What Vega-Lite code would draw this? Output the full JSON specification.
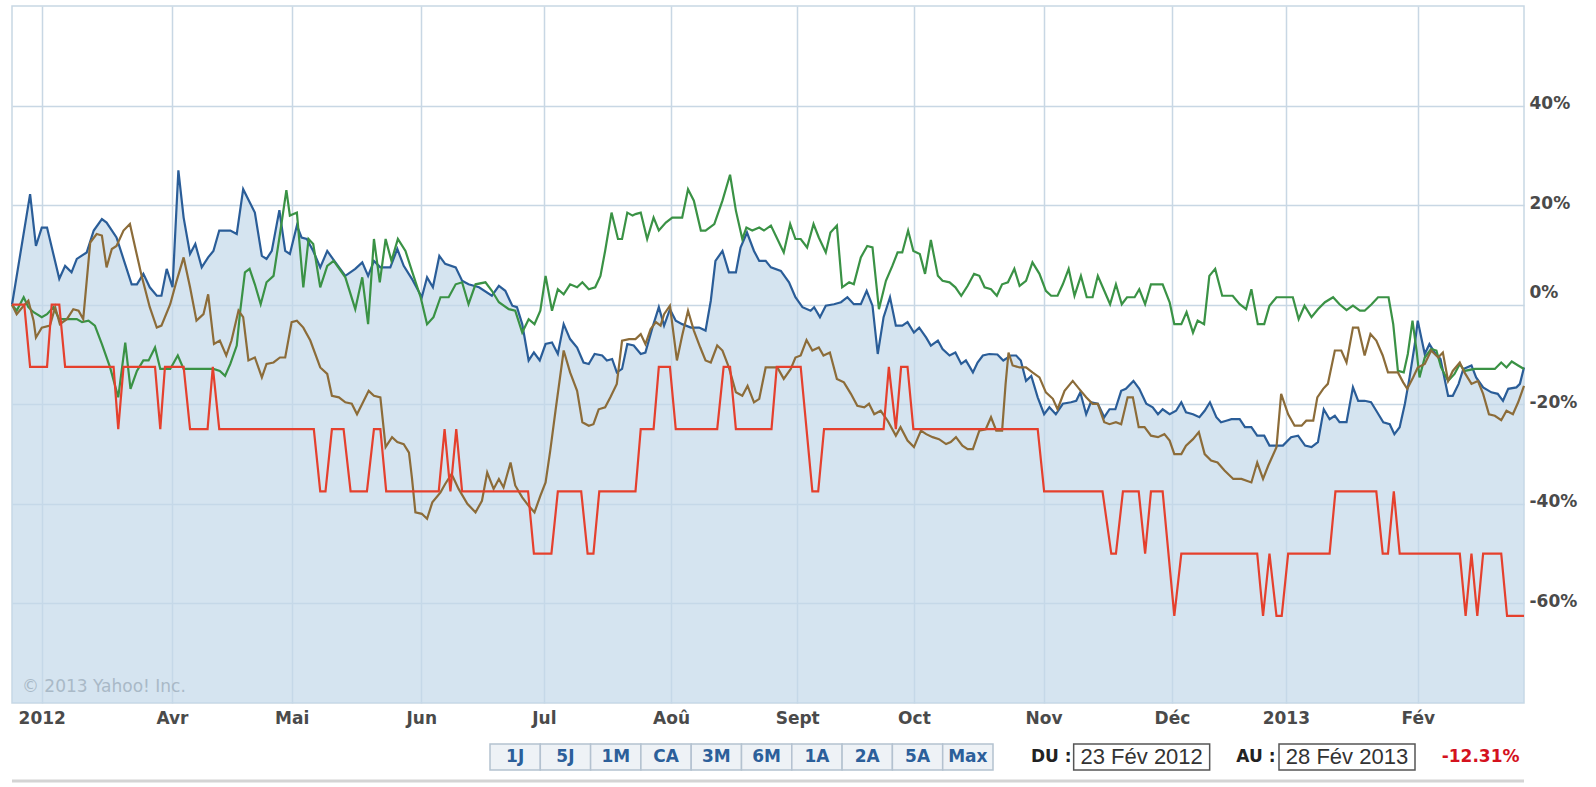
{
"$schema":"https://vega.github.io/schema/vega-lite/v6.json",
"background":"white",
"padding":{"left":6,"top":5,"right":0,"bottom":0},
"spacing":16,
"datasets":{
"series":[
{"s":"A","t":0,"v":0},{"s":"A","t":3.1,"v":22.2},{"s":"A","t":4.1,"v":11.8},{"s":"A","t":5.1,"v":15.5},{"s":"A","t":6.0,"v":15.5},{"s":"A","t":8.1,"v":5.2},{"s":"A","t":9.1,"v":7.8},{"s":"A","t":10.2,"v":6.5},{"s":"A","t":11.1,"v":9.2},{"s":"A","t":12.8,"v":10.5},{"s":"A","t":14.0,"v":14.9},{"s":"A","t":15.4,"v":17.2},{"s":"A","t":16.2,"v":16.5},{"s":"A","t":17.9,"v":13.5},{"s":"A","t":20.5,"v":4.1},{"s":"A","t":21.4,"v":4.1},{"s":"A","t":22.5,"v":6.2},{"s":"A","t":23.6,"v":3.5},{"s":"A","t":24.8,"v":1.8},{"s":"A","t":25.6,"v":1.8},{"s":"A","t":26.5,"v":7.2},{"s":"A","t":27.5,"v":3.5},{"s":"A","t":28.5,"v":27.0},{"s":"A","t":29.4,"v":17.5},{"s":"A","t":30.5,"v":10.2},{"s":"A","t":31.4,"v":12.2},{"s":"A","t":32.5,"v":7.5},{"s":"A","t":33.6,"v":9.5},{"s":"A","t":34.5,"v":10.8},{"s":"A","t":35.5,"v":14.9},{"s":"A","t":37.4,"v":14.9},{"s":"A","t":38.5,"v":14.2},{"s":"A","t":39.6,"v":23.2},{"s":"A","t":41.6,"v":18.5},{"s":"A","t":42.8,"v":9.8},{"s":"A","t":43.6,"v":9.2},{"s":"A","t":44.5,"v":10.8},{"s":"A","t":45.8,"v":19.0},{"s":"A","t":46.8,"v":10.8},{"s":"A","t":47.6,"v":10.2},{"s":"A","t":48.8,"v":15.9},{"s":"A","t":49.6,"v":13.5},{"s":"A","t":50.5,"v":13.2},{"s":"A","t":51.6,"v":10.8},{"s":"A","t":52.8,"v":7.5},{"s":"A","t":54.0,"v":10.8},{"s":"A","t":55.4,"v":8.5},{"s":"A","t":57.1,"v":5.8},{"s":"A","t":58.8,"v":7.2},{"s":"A","t":60.0,"v":8.5},{"s":"A","t":61.0,"v":5.8},{"s":"A","t":62.0,"v":8.8},{"s":"A","t":63.1,"v":7.5},{"s":"A","t":64.8,"v":7.5},{"s":"A","t":66.0,"v":11.2},{"s":"A","t":67.1,"v":7.8},{"s":"A","t":68.5,"v":5.2},{"s":"A","t":70.2,"v":1.5},{"s":"A","t":71.1,"v":5.5},{"s":"A","t":72.1,"v":3.5},{"s":"A","t":73.2,"v":9.8},{"s":"A","t":74.2,"v":8.2},{"s":"A","t":76.0,"v":7.5},{"s":"A","t":77.1,"v":4.8},{"s":"A","t":78.2,"v":4.1},{"s":"A","t":80.0,"v":3.5},{"s":"A","t":82.2,"v":1.8},{"s":"A","t":83.4,"v":3.8},{"s":"A","t":84.5,"v":2.8},{"s":"A","t":85.7,"v":-0.2},{"s":"A","t":86.5,"v":-0.5},{"s":"A","t":87.4,"v":-3.9},{"s":"A","t":88.5,"v":-11.2},{"s":"A","t":89.4,"v":-9.6},{"s":"A","t":90.4,"v":-11.2},{"s":"A","t":91.4,"v":-7.9},{"s":"A","t":92.5,"v":-7.6},{"s":"A","t":93.5,"v":-9.9},{"s":"A","t":94.5,"v":-3.9},{"s":"A","t":95.6,"v":-6.9},{"s":"A","t":96.8,"v":-8.6},{"s":"A","t":97.9,"v":-11.6},{"s":"A","t":98.8,"v":-11.9},{"s":"A","t":99.8,"v":-9.9},{"s":"A","t":101.1,"v":-10.2},{"s":"A","t":101.9,"v":-11.2},{"s":"A","t":102.8,"v":-10.9},{"s":"A","t":103.6,"v":-13.6},{"s":"A","t":104.5,"v":-12.9},{"s":"A","t":105.4,"v":-7.9},{"s":"A","t":106.5,"v":-8.2},{"s":"A","t":107.7,"v":-9.9},{"s":"A","t":108.5,"v":-9.6},{"s":"A","t":109.7,"v":-4.6},{"s":"A","t":110.8,"v":-0.5},{"s":"A","t":111.7,"v":-4.2},{"s":"A","t":112.7,"v":-0.9},{"s":"A","t":113.7,"v":-3.2},{"s":"A","t":114.8,"v":-3.9},{"s":"A","t":116.3,"v":-4.6},{"s":"A","t":117.7,"v":-4.6},{"s":"A","t":118.8,"v":-5.2},{"s":"A","t":119.7,"v":0.8},{"s":"A","t":120.5,"v":8.8},{"s":"A","t":121.7,"v":10.8},{"s":"A","t":122.8,"v":6.5},{"s":"A","t":124.0,"v":6.5},{"s":"A","t":124.8,"v":11.5},{"s":"A","t":125.9,"v":14.5},{"s":"A","t":127.1,"v":10.8},{"s":"A","t":128.0,"v":8.8},{"s":"A","t":129.1,"v":8.8},{"s":"A","t":130.0,"v":7.5},{"s":"A","t":131.7,"v":6.8},{"s":"A","t":133.1,"v":4.5},{"s":"A","t":134.2,"v":1.5},{"s":"A","t":135.4,"v":-0.5},{"s":"A","t":136.8,"v":-1.2},{"s":"A","t":137.4,"v":-0.5},{"s":"A","t":138.4,"v":-2.5},{"s":"A","t":139.4,"v":-0.2},{"s":"A","t":140.8,"v":0.1},{"s":"A","t":142.0,"v":0.5},{"s":"A","t":143.1,"v":1.5},{"s":"A","t":144.2,"v":0.1},{"s":"A","t":145.4,"v":0.1},{"s":"A","t":146.4,"v":2.8},{"s":"A","t":147.4,"v":-0.2},{"s":"A","t":148.3,"v":-9.9},{"s":"A","t":149.3,"v":-2.5},{"s":"A","t":150.4,"v":1.5},{"s":"A","t":151.4,"v":-4.2},{"s":"A","t":152.5,"v":-4.2},{"s":"A","t":153.4,"v":-3.5},{"s":"A","t":154.5,"v":-5.6},{"s":"A","t":155.4,"v":-4.6},{"s":"A","t":156.6,"v":-6.6},{"s":"A","t":157.4,"v":-8.2},{"s":"A","t":158.6,"v":-7.2},{"s":"A","t":159.4,"v":-8.9},{"s":"A","t":160.6,"v":-10.2},{"s":"A","t":161.6,"v":-9.6},{"s":"A","t":162.6,"v":-11.9},{"s":"A","t":163.4,"v":-11.2},{"s":"A","t":164.6,"v":-13.6},{"s":"A","t":165.4,"v":-11.6},{"s":"A","t":166.3,"v":-10.2},{"s":"A","t":167.4,"v":-9.9},{"s":"A","t":168.8,"v":-10.0},{"s":"A","t":169.8,"v":-11.2},{"s":"A","t":171.1,"v":-10.2},{"s":"A","t":172.0,"v":-10.2},{"s":"A","t":172.8,"v":-11.2},{"s":"A","t":173.7,"v":-15.3},{"s":"A","t":174.6,"v":-14.3},{"s":"A","t":175.7,"v":-18.6},{"s":"A","t":176.8,"v":-22.0},{"s":"A","t":177.7,"v":-20.6},{"s":"A","t":178.8,"v":-22.0},{"s":"A","t":180.0,"v":-19.9},{"s":"A","t":181.4,"v":-19.6},{"s":"A","t":182.3,"v":-19.3},{"s":"A","t":183.0,"v":-17.6},{"s":"A","t":184.0,"v":-22.0},{"s":"A","t":184.8,"v":-19.6},{"s":"A","t":186.0,"v":-19.9},{"s":"A","t":187.1,"v":-22.6},{"s":"A","t":188.0,"v":-21.0},{"s":"A","t":189.0,"v":-21.0},{"s":"A","t":190.0,"v":-17.3},{"s":"A","t":190.8,"v":-16.9},{"s":"A","t":192.1,"v":-15.3},{"s":"A","t":193.1,"v":-16.9},{"s":"A","t":194.3,"v":-19.9},{"s":"A","t":195.4,"v":-20.6},{"s":"A","t":196.3,"v":-22.0},{"s":"A","t":197.1,"v":-21.0},{"s":"A","t":198.3,"v":-22.0},{"s":"A","t":199.4,"v":-21.3},{"s":"A","t":200.3,"v":-19.6},{"s":"A","t":201.1,"v":-21.6},{"s":"A","t":202.3,"v":-22.0},{"s":"A","t":203.4,"v":-22.6},{"s":"A","t":204.3,"v":-21.3},{"s":"A","t":205.2,"v":-19.6},{"s":"A","t":206.3,"v":-22.6},{"s":"A","t":207.1,"v":-23.6},{"s":"A","t":208.0,"v":-23.3},{"s":"A","t":208.9,"v":-23.0},{"s":"A","t":210.3,"v":-23.0},{"s":"A","t":211.2,"v":-24.6},{"s":"A","t":212.3,"v":-24.6},{"s":"A","t":213.3,"v":-26.3},{"s":"A","t":214.5,"v":-26.3},{"s":"A","t":215.4,"v":-28.3},{"s":"A","t":216.6,"v":-28.3},{"s":"A","t":217.7,"v":-28.3},{"s":"A","t":219.1,"v":-26.6},{"s":"A","t":220.3,"v":-26.3},{"s":"A","t":221.5,"v":-28.3},{"s":"A","t":222.6,"v":-28.6},{"s":"A","t":223.7,"v":-27.6},{"s":"A","t":224.7,"v":-21.0},{"s":"A","t":225.7,"v":-23.0},{"s":"A","t":226.6,"v":-22.3},{"s":"A","t":227.4,"v":-23.6},{"s":"A","t":228.6,"v":-23.6},{"s":"A","t":229.7,"v":-16.6},{"s":"A","t":230.6,"v":-19.3},{"s":"A","t":231.7,"v":-19.3},{"s":"A","t":232.8,"v":-19.6},{"s":"A","t":233.7,"v":-21.3},{"s":"A","t":234.9,"v":-23.6},{"s":"A","t":236.0,"v":-24.0},{"s":"A","t":236.8,"v":-26.0},{"s":"A","t":237.7,"v":-24.6},{"s":"A","t":238.6,"v":-19.9},{"s":"A","t":239.4,"v":-14.6},{"s":"A","t":240.3,"v":-7.9},{"s":"A","t":240.8,"v":-3.2},{"s":"A","t":241.4,"v":-6.6},{"s":"A","t":242.0,"v":-9.9},{"s":"A","t":242.8,"v":-7.9},{"s":"A","t":243.7,"v":-9.6},{"s":"A","t":244.7,"v":-10.9},{"s":"A","t":246.0,"v":-18.3},{"s":"A","t":246.8,"v":-18.3},{"s":"A","t":247.8,"v":-15.9},{"s":"A","t":248.6,"v":-12.9},{"s":"A","t":250.0,"v":-12.2},{"s":"A","t":250.8,"v":-14.6},{"s":"A","t":252.0,"v":-16.6},{"s":"A","t":253.4,"v":-17.6},{"s":"A","t":254.5,"v":-17.9},{"s":"A","t":255.4,"v":-19.3},{"s":"A","t":256.3,"v":-16.9},{"s":"A","t":257.7,"v":-16.6},{"s":"A","t":258.3,"v":-15.9},{"s":"A","t":259.0,"v":-12.6},
{"s":"B","t":0,"v":0},{"s":"B","t":0.8,"v":-1.2},{"s":"B","t":2.0,"v":1.5},{"s":"B","t":2.8,"v":-0.5},{"s":"B","t":3.7,"v":-1.5},{"s":"B","t":5.1,"v":-2.5},{"s":"B","t":6.0,"v":-1.9},{"s":"B","t":7.1,"v":-0.5},{"s":"B","t":8.1,"v":-2.9},{"s":"B","t":11.1,"v":-2.9},{"s":"B","t":12.0,"v":-3.5},{"s":"B","t":13.1,"v":-3.2},{"s":"B","t":14.2,"v":-4.2},{"s":"B","t":15.4,"v":-7.9},{"s":"B","t":16.8,"v":-12.6},{"s":"B","t":18.2,"v":-18.6},{"s":"B","t":19.4,"v":-7.6},{"s":"B","t":20.3,"v":-16.9},{"s":"B","t":21.4,"v":-13.3},{"s":"B","t":22.5,"v":-11.2},{"s":"B","t":23.4,"v":-11.2},{"s":"B","t":24.5,"v":-8.6},{"s":"B","t":25.4,"v":-12.9},{"s":"B","t":27.1,"v":-12.9},{"s":"B","t":28.4,"v":-10.2},{"s":"B","t":29.4,"v":-12.9},{"s":"B","t":34.5,"v":-12.9},{"s":"B","t":35.6,"v":-13.3},{"s":"B","t":36.5,"v":-14.3},{"s":"B","t":37.4,"v":-11.9},{"s":"B","t":38.5,"v":-8.2},{"s":"B","t":39.1,"v":-1.2},{"s":"B","t":39.9,"v":6.5},{"s":"B","t":40.7,"v":7.2},{"s":"B","t":41.6,"v":4.1},{"s":"B","t":42.6,"v":0.1},{"s":"B","t":43.6,"v":4.5},{"s":"B","t":44.8,"v":5.8},{"s":"B","t":45.9,"v":14.2},{"s":"B","t":47.0,"v":23.0},{"s":"B","t":47.6,"v":17.9},{"s":"B","t":48.8,"v":18.5},{"s":"B","t":49.9,"v":3.5},{"s":"B","t":50.8,"v":13.2},{"s":"B","t":51.6,"v":12.2},{"s":"B","t":52.8,"v":3.5},{"s":"B","t":54.0,"v":7.8},{"s":"B","t":55.1,"v":8.8},{"s":"B","t":57.1,"v":5.5},{"s":"B","t":58.8,"v":-0.9},{"s":"B","t":60.0,"v":5.5},{"s":"B","t":61.0,"v":-3.9},{"s":"B","t":62.0,"v":13.2},{"s":"B","t":63.0,"v":4.5},{"s":"B","t":64.0,"v":13.2},{"s":"B","t":65.0,"v":8.8},{"s":"B","t":66.1,"v":13.2},{"s":"B","t":67.4,"v":10.8},{"s":"B","t":68.5,"v":6.8},{"s":"B","t":70.0,"v":1.5},{"s":"B","t":71.1,"v":-3.9},{"s":"B","t":72.2,"v":-2.5},{"s":"B","t":73.4,"v":1.5},{"s":"B","t":74.8,"v":1.5},{"s":"B","t":76.0,"v":4.1},{"s":"B","t":77.1,"v":4.5},{"s":"B","t":78.2,"v":0.1},{"s":"B","t":79.4,"v":4.1},{"s":"B","t":81.1,"v":4.5},{"s":"B","t":82.2,"v":2.8},{"s":"B","t":83.4,"v":0.5},{"s":"B","t":85.1,"v":-0.9},{"s":"B","t":86.2,"v":-1.2},{"s":"B","t":87.4,"v":-5.6},{"s":"B","t":88.5,"v":-2.9},{"s":"B","t":89.5,"v":-3.9},{"s":"B","t":90.5,"v":-1.2},{"s":"B","t":91.4,"v":5.8},{"s":"B","t":92.5,"v":-1.2},{"s":"B","t":93.5,"v":3.1},{"s":"B","t":94.5,"v":2.1},{"s":"B","t":95.6,"v":4.1},{"s":"B","t":96.8,"v":3.5},{"s":"B","t":97.7,"v":4.5},{"s":"B","t":98.8,"v":3.1},{"s":"B","t":99.9,"v":3.5},{"s":"B","t":100.8,"v":5.8},{"s":"B","t":101.6,"v":10.8},{"s":"B","t":102.7,"v":18.5},{"s":"B","t":103.8,"v":13.2},{"s":"B","t":104.5,"v":13.2},{"s":"B","t":105.4,"v":18.5},{"s":"B","t":106.3,"v":17.9},{"s":"B","t":106.8,"v":18.2},{"s":"B","t":107.7,"v":18.5},{"s":"B","t":108.8,"v":13.2},{"s":"B","t":109.9,"v":17.5},{"s":"B","t":110.8,"v":14.9},{"s":"B","t":112.0,"v":16.5},{"s":"B","t":113.1,"v":17.5},{"s":"B","t":114.8,"v":17.5},{"s":"B","t":115.8,"v":23.2},{"s":"B","t":116.8,"v":20.9},{"s":"B","t":118.0,"v":14.9},{"s":"B","t":118.8,"v":14.9},{"s":"B","t":120.3,"v":16.2},{"s":"B","t":121.7,"v":20.9},{"s":"B","t":123.0,"v":26.1},{"s":"B","t":124.0,"v":18.9},{"s":"B","t":125.1,"v":13.2},{"s":"B","t":125.8,"v":15.5},{"s":"B","t":126.8,"v":14.9},{"s":"B","t":128.0,"v":15.5},{"s":"B","t":128.8,"v":14.9},{"s":"B","t":130.0,"v":15.9},{"s":"B","t":131.1,"v":13.2},{"s":"B","t":132.2,"v":10.5},{"s":"B","t":133.3,"v":16.2},{"s":"B","t":134.2,"v":13.2},{"s":"B","t":135.1,"v":13.2},{"s":"B","t":136.2,"v":11.5},{"s":"B","t":137.3,"v":16.2},{"s":"B","t":138.2,"v":13.5},{"s":"B","t":139.4,"v":10.5},{"s":"B","t":140.2,"v":14.5},{"s":"B","t":141.3,"v":15.9},{"s":"B","t":142.2,"v":3.5},{"s":"B","t":143.4,"v":4.5},{"s":"B","t":144.2,"v":4.1},{"s":"B","t":145.4,"v":9.5},{"s":"B","t":146.5,"v":11.8},{"s":"B","t":147.4,"v":11.5},{"s":"B","t":148.5,"v":-0.9},{"s":"B","t":149.7,"v":4.8},{"s":"B","t":150.8,"v":7.8},{"s":"B","t":151.7,"v":10.5},{"s":"B","t":152.5,"v":10.5},{"s":"B","t":153.5,"v":14.9},{"s":"B","t":154.4,"v":10.8},{"s":"B","t":155.5,"v":10.2},{"s":"B","t":156.4,"v":6.2},{"s":"B","t":157.4,"v":13.0},{"s":"B","t":158.6,"v":5.8},{"s":"B","t":159.4,"v":4.8},{"s":"B","t":160.6,"v":4.5},{"s":"B","t":161.6,"v":3.5},{"s":"B","t":162.6,"v":1.8},{"s":"B","t":163.7,"v":3.8},{"s":"B","t":164.8,"v":6.2},{"s":"B","t":165.7,"v":5.8},{"s":"B","t":166.6,"v":3.5},{"s":"B","t":167.7,"v":3.1},{"s":"B","t":168.7,"v":1.8},{"s":"B","t":169.6,"v":4.1},{"s":"B","t":170.6,"v":4.5},{"s":"B","t":171.7,"v":7.2},{"s":"B","t":172.6,"v":3.8},{"s":"B","t":173.7,"v":4.8},{"s":"B","t":174.8,"v":8.5},{"s":"B","t":176.0,"v":6.2},{"s":"B","t":177.1,"v":2.8},{"s":"B","t":178.0,"v":1.8},{"s":"B","t":179.1,"v":1.8},{"s":"B","t":180.0,"v":4.1},{"s":"B","t":181.0,"v":7.2},{"s":"B","t":182.0,"v":1.8},{"s":"B","t":183.1,"v":5.8},{"s":"B","t":184.1,"v":1.5},{"s":"B","t":185.1,"v":1.5},{"s":"B","t":186.0,"v":5.8},{"s":"B","t":187.1,"v":2.8},{"s":"B","t":188.1,"v":0.1},{"s":"B","t":189.1,"v":4.1},{"s":"B","t":190.1,"v":0.1},{"s":"B","t":191.0,"v":1.5},{"s":"B","t":192.3,"v":1.5},{"s":"B","t":193.1,"v":3.1},{"s":"B","t":194.1,"v":0.1},{"s":"B","t":195.1,"v":4.1},{"s":"B","t":197.1,"v":4.1},{"s":"B","t":198.3,"v":0.5},{"s":"B","t":199.1,"v":-3.9},{"s":"B","t":200.3,"v":-3.9},{"s":"B","t":201.2,"v":-1.5},{"s":"B","t":202.3,"v":-5.6},{"s":"B","t":203.1,"v":-3.2},{"s":"B","t":204.2,"v":-3.9},{"s":"B","t":205.1,"v":5.8},{"s":"B","t":206.1,"v":7.2},{"s":"B","t":207.3,"v":1.8},{"s":"B","t":209.1,"v":1.8},{"s":"B","t":210.3,"v":0.1},{"s":"B","t":211.4,"v":-0.9},{"s":"B","t":212.3,"v":3.1},{"s":"B","t":213.4,"v":-3.9},{"s":"B","t":214.5,"v":-3.9},{"s":"B","t":215.4,"v":-0.2},{"s":"B","t":216.6,"v":1.5},{"s":"B","t":219.4,"v":1.5},{"s":"B","t":220.4,"v":-2.9},{"s":"B","t":221.4,"v":-0.2},{"s":"B","t":222.6,"v":-2.5},{"s":"B","t":223.7,"v":-0.9},{"s":"B","t":224.9,"v":0.5},{"s":"B","t":226.3,"v":1.5},{"s":"B","t":227.4,"v":0.1},{"s":"B","t":228.6,"v":-1.1},{"s":"B","t":229.7,"v":-0.2},{"s":"B","t":230.9,"v":-1.2},{"s":"B","t":231.7,"v":-1.2},{"s":"B","t":232.9,"v":0.1},{"s":"B","t":234.0,"v":1.5},{"s":"B","t":235.8,"v":1.5},{"s":"B","t":236.6,"v":-3.9},{"s":"B","t":237.4,"v":-13.3},{"s":"B","t":238.4,"v":-13.6},{"s":"B","t":239.1,"v":-9.9},{"s":"B","t":239.9,"v":-3.2},{"s":"B","t":240.6,"v":-9.2},{"s":"B","t":241.1,"v":-14.6},{"s":"B","t":242.0,"v":-10.6},{"s":"B","t":243.1,"v":-8.9},{"s":"B","t":244.0,"v":-9.2},{"s":"B","t":244.8,"v":-12.6},{"s":"B","t":246.0,"v":-15.3},{"s":"B","t":247.1,"v":-13.9},{"s":"B","t":248.0,"v":-11.9},{"s":"B","t":248.8,"v":-13.3},{"s":"B","t":250.6,"v":-12.9},{"s":"B","t":254.0,"v":-12.9},{"s":"B","t":255.1,"v":-11.6},{"s":"B","t":256.0,"v":-12.6},{"s":"B","t":256.9,"v":-11.4},{"s":"B","t":258.0,"v":-12.2},{"s":"B","t":259.0,"v":-12.9},
{"s":"C","t":0,"v":0},{"s":"C","t":0.8,"v":-1.9},{"s":"C","t":2.0,"v":-0.2},{"s":"C","t":2.8,"v":0.8},{"s":"C","t":3.7,"v":-3.2},{"s":"C","t":4.1,"v":-6.6},{"s":"C","t":5.1,"v":-4.6},{"s":"C","t":6.5,"v":-4.2},{"s":"C","t":7.4,"v":-0.5},{"s":"C","t":8.2,"v":-3.9},{"s":"C","t":9.4,"v":-2.9},{"s":"C","t":10.5,"v":-0.9},{"s":"C","t":11.4,"v":-1.2},{"s":"C","t":12.2,"v":-2.9},{"s":"C","t":13.4,"v":12.5},{"s":"C","t":14.5,"v":14.2},{"s":"C","t":15.4,"v":13.9},{"s":"C","t":16.2,"v":7.5},{"s":"C","t":17.1,"v":11.2},{"s":"C","t":17.9,"v":11.8},{"s":"C","t":19.1,"v":14.9},{"s":"C","t":20.2,"v":16.2},{"s":"C","t":21.1,"v":11.5},{"s":"C","t":22.2,"v":5.8},{"s":"C","t":23.6,"v":-0.5},{"s":"C","t":24.8,"v":-4.6},{"s":"C","t":25.6,"v":-4.2},{"s":"C","t":27.1,"v":0.1},{"s":"C","t":28.2,"v":4.8},{"s":"C","t":29.4,"v":9.5},{"s":"C","t":30.5,"v":3.5},{"s":"C","t":31.6,"v":-3.2},{"s":"C","t":32.8,"v":-1.9},{"s":"C","t":33.6,"v":2.1},{"s":"C","t":34.6,"v":-7.9},{"s":"C","t":35.6,"v":-7.2},{"s":"C","t":36.7,"v":-10.2},{"s":"C","t":37.6,"v":-7.2},{"s":"C","t":38.8,"v":-1.2},{"s":"C","t":39.6,"v":-2.5},{"s":"C","t":40.5,"v":-11.2},{"s":"C","t":41.6,"v":-10.6},{"s":"C","t":42.8,"v":-14.6},{"s":"C","t":43.6,"v":-11.9},{"s":"C","t":44.8,"v":-11.6},{"s":"C","t":45.9,"v":-10.6},{"s":"C","t":46.8,"v":-10.6},{"s":"C","t":47.9,"v":-3.5},{"s":"C","t":48.8,"v":-3.2},{"s":"C","t":49.9,"v":-4.6},{"s":"C","t":51.1,"v":-7.2},{"s":"C","t":52.8,"v":-12.6},{"s":"C","t":54.0,"v":-13.9},{"s":"C","t":54.8,"v":-18.3},{"s":"C","t":56.0,"v":-18.6},{"s":"C","t":57.1,"v":-19.6},{"s":"C","t":58.2,"v":-19.9},{"s":"C","t":59.1,"v":-22.0},{"s":"C","t":60.0,"v":-19.9},{"s":"C","t":61.1,"v":-17.3},{"s":"C","t":62.0,"v":-18.3},{"s":"C","t":63.1,"v":-18.6},{"s":"C","t":64.0,"v":-28.6},{"s":"C","t":65.1,"v":-26.6},{"s":"C","t":66.0,"v":-27.6},{"s":"C","t":67.1,"v":-28.0},{"s":"C","t":68.0,"v":-29.7},{"s":"C","t":68.5,"v":-34.7},{"s":"C","t":69.1,"v":-41.7},{"s":"C","t":70.2,"v":-42.0},{"s":"C","t":71.1,"v":-43.0},{"s":"C","t":72.0,"v":-39.7},{"s":"C","t":73.4,"v":-37.7},{"s":"C","t":74.2,"v":-36.0},{"s":"C","t":75.3,"v":-34.0},{"s":"C","t":76.5,"v":-37.0},{"s":"C","t":78.0,"v":-40.0},{"s":"C","t":79.4,"v":-41.7},{"s":"C","t":80.5,"v":-39.4},{"s":"C","t":81.4,"v":-33.7},{"s":"C","t":82.5,"v":-37.0},{"s":"C","t":83.4,"v":-35.0},{"s":"C","t":84.2,"v":-36.7},{"s":"C","t":85.4,"v":-31.7},{"s":"C","t":86.2,"v":-36.3},{"s":"C","t":87.4,"v":-38.7},{"s":"C","t":88.5,"v":-40.4},{"s":"C","t":89.5,"v":-41.7},{"s":"C","t":90.5,"v":-38.4},{"s":"C","t":91.4,"v":-35.7},{"s":"C","t":92.2,"v":-29.3},{"s":"C","t":93.1,"v":-21.3},{"s":"C","t":94.5,"v":-9.2},{"s":"C","t":95.6,"v":-13.6},{"s":"C","t":96.8,"v":-17.3},{"s":"C","t":97.7,"v":-23.6},{"s":"C","t":98.8,"v":-24.3},{"s":"C","t":99.6,"v":-24.0},{"s":"C","t":100.5,"v":-21.0},{"s":"C","t":101.6,"v":-20.6},{"s":"C","t":102.5,"v":-18.6},{"s":"C","t":103.6,"v":-15.9},{"s":"C","t":104.5,"v":-7.2},{"s":"C","t":105.7,"v":-6.9},{"s":"C","t":106.8,"v":-6.9},{"s":"C","t":107.7,"v":-5.9},{"s":"C","t":108.5,"v":-7.9},{"s":"C","t":109.4,"v":-4.9},{"s":"C","t":110.3,"v":-3.5},{"s":"C","t":111.1,"v":-4.2},{"s":"C","t":111.7,"v":-1.9},{"s":"C","t":112.7,"v":-0.2},{"s":"C","t":113.4,"v":-6.6},{"s":"C","t":113.9,"v":-11.2},{"s":"C","t":114.8,"v":-6.2},{"s":"C","t":115.8,"v":-1.2},{"s":"C","t":116.8,"v":-5.2},{"s":"C","t":117.9,"v":-8.6},{"s":"C","t":118.8,"v":-11.2},{"s":"C","t":119.7,"v":-11.6},{"s":"C","t":120.8,"v":-8.2},{"s":"C","t":121.7,"v":-9.2},{"s":"C","t":122.8,"v":-12.6},{"s":"C","t":124.0,"v":-17.6},{"s":"C","t":125.1,"v":-18.3},{"s":"C","t":126.0,"v":-16.3},{"s":"C","t":127.1,"v":-19.6},{"s":"C","t":128.0,"v":-18.9},{"s":"C","t":129.1,"v":-12.6},{"s":"C","t":131.1,"v":-12.6},{"s":"C","t":132.2,"v":-14.9},{"s":"C","t":133.4,"v":-12.9},{"s":"C","t":134.2,"v":-10.6},{"s":"C","t":135.1,"v":-10.2},{"s":"C","t":136.1,"v":-7.1},{"s":"C","t":137.1,"v":-9.2},{"s":"C","t":138.2,"v":-8.6},{"s":"C","t":139.0,"v":-10.2},{"s":"C","t":140.1,"v":-9.6},{"s":"C","t":141.3,"v":-14.9},{"s":"C","t":142.5,"v":-15.6},{"s":"C","t":143.7,"v":-17.9},{"s":"C","t":144.8,"v":-20.3},{"s":"C","t":146.0,"v":-20.6},{"s":"C","t":146.8,"v":-19.9},{"s":"C","t":147.7,"v":-22.0},{"s":"C","t":148.8,"v":-21.3},{"s":"C","t":150.0,"v":-23.3},{"s":"C","t":151.4,"v":-26.3},{"s":"C","t":152.2,"v":-24.6},{"s":"C","t":153.4,"v":-27.3},{"s":"C","t":154.5,"v":-28.6},{"s":"C","t":155.7,"v":-25.3},{"s":"C","t":156.6,"v":-26.0},{"s":"C","t":157.7,"v":-26.6},{"s":"C","t":158.8,"v":-27.0},{"s":"C","t":160.0,"v":-28.0},{"s":"C","t":160.8,"v":-27.6},{"s":"C","t":161.7,"v":-26.6},{"s":"C","t":162.8,"v":-28.3},{"s":"C","t":163.7,"v":-29.0},{"s":"C","t":164.6,"v":-29.0},{"s":"C","t":165.7,"v":-25.3},{"s":"C","t":166.8,"v":-25.0},{"s":"C","t":167.7,"v":-22.6},{"s":"C","t":168.6,"v":-25.3},{"s":"C","t":169.6,"v":-25.3},{"s":"C","t":170.2,"v":-15.9},{"s":"C","t":170.7,"v":-9.6},{"s":"C","t":171.4,"v":-12.2},{"s":"C","t":172.6,"v":-12.6},{"s":"C","t":173.7,"v":-12.6},{"s":"C","t":174.8,"v":-13.6},{"s":"C","t":176.0,"v":-14.6},{"s":"C","t":177.1,"v":-17.6},{"s":"C","t":178.3,"v":-18.9},{"s":"C","t":179.1,"v":-21.0},{"s":"C","t":180.3,"v":-17.3},{"s":"C","t":181.7,"v":-15.3},{"s":"C","t":182.8,"v":-16.9},{"s":"C","t":184.0,"v":-18.6},{"s":"C","t":185.1,"v":-19.9},{"s":"C","t":186.0,"v":-19.9},{"s":"C","t":187.1,"v":-23.6},{"s":"C","t":188.0,"v":-24.0},{"s":"C","t":189.1,"v":-23.6},{"s":"C","t":190.0,"v":-24.0},{"s":"C","t":191.1,"v":-18.6},{"s":"C","t":192.0,"v":-18.6},{"s":"C","t":193.0,"v":-24.6},{"s":"C","t":194.0,"v":-24.6},{"s":"C","t":195.1,"v":-26.3},{"s":"C","t":196.3,"v":-26.6},{"s":"C","t":197.4,"v":-26.0},{"s":"C","t":198.3,"v":-27.3},{"s":"C","t":199.1,"v":-30.0},{"s":"C","t":200.3,"v":-30.0},{"s":"C","t":201.1,"v":-28.3},{"s":"C","t":202.3,"v":-27.0},{"s":"C","t":203.3,"v":-25.6},{"s":"C","t":204.3,"v":-30.0},{"s":"C","t":205.4,"v":-31.3},{"s":"C","t":206.5,"v":-31.7},{"s":"C","t":207.7,"v":-33.3},{"s":"C","t":209.2,"v":-35.0},{"s":"C","t":210.6,"v":-35.0},{"s":"C","t":212.3,"v":-35.7},{"s":"C","t":213.3,"v":-31.7},{"s":"C","t":214.3,"v":-35.0},{"s":"C","t":215.2,"v":-32.3},{"s":"C","t":216.6,"v":-28.6},{"s":"C","t":217.4,"v":-17.9},{"s":"C","t":218.6,"v":-22.0},{"s":"C","t":219.7,"v":-24.3},{"s":"C","t":220.9,"v":-24.3},{"s":"C","t":221.7,"v":-23.3},{"s":"C","t":222.9,"v":-23.3},{"s":"C","t":223.6,"v":-18.6},{"s":"C","t":224.6,"v":-16.9},{"s":"C","t":225.4,"v":-15.9},{"s":"C","t":226.6,"v":-9.2},{"s":"C","t":227.7,"v":-9.2},{"s":"C","t":228.6,"v":-11.6},{"s":"C","t":229.7,"v":-4.6},{"s":"C","t":230.6,"v":-4.6},{"s":"C","t":231.7,"v":-10.2},{"s":"C","t":232.7,"v":-5.9},{"s":"C","t":233.7,"v":-7.2},{"s":"C","t":234.8,"v":-10.2},{"s":"C","t":235.7,"v":-13.6},{"s":"C","t":237.4,"v":-13.6},{"s":"C","t":238.3,"v":-15.6},{"s":"C","t":239.0,"v":-16.9},{"s":"C","t":240.0,"v":-14.6},{"s":"C","t":240.8,"v":-12.6},{"s":"C","t":242.0,"v":-11.9},{"s":"C","t":243.1,"v":-9.2},{"s":"C","t":244.3,"v":-10.6},{"s":"C","t":245.1,"v":-9.6},{"s":"C","t":246.0,"v":-15.3},{"s":"C","t":246.8,"v":-13.3},{"s":"C","t":248.0,"v":-11.6},{"s":"C","t":248.8,"v":-13.6},{"s":"C","t":250.0,"v":-15.9},{"s":"C","t":251.1,"v":-15.3},{"s":"C","t":252.0,"v":-17.9},{"s":"C","t":253.0,"v":-22.0},{"s":"C","t":254.0,"v":-22.3},{"s":"C","t":255.1,"v":-23.2},{"s":"C","t":256.0,"v":-21.3},{"s":"C","t":257.1,"v":-22.0},{"s":"C","t":258.0,"v":-19.6},{"s":"C","t":259.0,"v":-16.3},
{"s":"D","t":0,"v":0},{"s":"D","t":2.1,"v":0},{"s":"D","t":3.1,"v":-12.5},{"s":"D","t":6.0,"v":-12.5},{"s":"D","t":6.8,"v":0},{"s":"D","t":8.1,"v":0},{"s":"D","t":9.1,"v":-12.5},{"s":"D","t":17.4,"v":-12.5},{"s":"D","t":18.2,"v":-25},{"s":"D","t":19.1,"v":-12.5},{"s":"D","t":24.5,"v":-12.5},{"s":"D","t":25.4,"v":-25},{"s":"D","t":26.2,"v":-12.5},{"s":"D","t":29.4,"v":-12.5},{"s":"D","t":30.5,"v":-25},{"s":"D","t":33.5,"v":-25},{"s":"D","t":34.4,"v":-12.5},{"s":"D","t":35.5,"v":-25},{"s":"D","t":51.7,"v":-25},{"s":"D","t":52.8,"v":-37.5},{"s":"D","t":53.7,"v":-37.5},{"s":"D","t":54.8,"v":-25},{"s":"D","t":56.8,"v":-25},{"s":"D","t":58.0,"v":-37.5},{"s":"D","t":60.8,"v":-37.5},{"s":"D","t":62.0,"v":-25},{"s":"D","t":63.1,"v":-25},{"s":"D","t":64.1,"v":-37.5},{"s":"D","t":73.1,"v":-37.5},{"s":"D","t":74.1,"v":-25},{"s":"D","t":75.1,"v":-37.5},{"s":"D","t":76.1,"v":-25},{"s":"D","t":77.1,"v":-37.5},{"s":"D","t":88.4,"v":-37.5},{"s":"D","t":89.4,"v":-50},{"s":"D","t":92.4,"v":-50},{"s":"D","t":93.5,"v":-37.5},{"s":"D","t":97.5,"v":-37.5},{"s":"D","t":98.6,"v":-50},{"s":"D","t":99.6,"v":-50},{"s":"D","t":100.6,"v":-37.5},{"s":"D","t":106.8,"v":-37.5},{"s":"D","t":107.7,"v":-25},{"s":"D","t":109.9,"v":-25},{"s":"D","t":110.8,"v":-12.5},{"s":"D","t":112.7,"v":-12.5},{"s":"D","t":113.7,"v":-25},{"s":"D","t":120.8,"v":-25},{"s":"D","t":121.9,"v":-12.5},{"s":"D","t":123.0,"v":-12.5},{"s":"D","t":124.0,"v":-25},{"s":"D","t":130.1,"v":-25},{"s":"D","t":131.0,"v":-12.5},{"s":"D","t":135.1,"v":-12.5},{"s":"D","t":137.1,"v":-37.5},{"s":"D","t":138.1,"v":-37.5},{"s":"D","t":139.1,"v":-25},{"s":"D","t":149.3,"v":-25},{"s":"D","t":150.2,"v":-12.5},{"s":"D","t":151.4,"v":-25},{"s":"D","t":152.3,"v":-12.5},{"s":"D","t":153.4,"v":-12.5},{"s":"D","t":154.4,"v":-25},{"s":"D","t":175.7,"v":-25},{"s":"D","t":176.8,"v":-37.5},{"s":"D","t":186.8,"v":-37.5},{"s":"D","t":188.3,"v":-50},{"s":"D","t":189.1,"v":-50},{"s":"D","t":190.3,"v":-37.5},{"s":"D","t":193.0,"v":-37.5},{"s":"D","t":194.1,"v":-50},{"s":"D","t":195.1,"v":-37.5},{"s":"D","t":197.1,"v":-37.5},{"s":"D","t":199.1,"v":-62.5},{"s":"D","t":200.3,"v":-50},{"s":"D","t":213.3,"v":-50},{"s":"D","t":214.3,"v":-62.5},{"s":"D","t":215.4,"v":-50},{"s":"D","t":216.6,"v":-62.5},{"s":"D","t":217.5,"v":-62.5},{"s":"D","t":218.6,"v":-50},{"s":"D","t":225.7,"v":-50},{"s":"D","t":226.7,"v":-37.5},{"s":"D","t":233.7,"v":-37.5},{"s":"D","t":234.8,"v":-50},{"s":"D","t":235.7,"v":-50},{"s":"D","t":236.7,"v":-37.5},{"s":"D","t":237.7,"v":-50},{"s":"D","t":248.0,"v":-50},{"s":"D","t":249.0,"v":-62.5},{"s":"D","t":250.0,"v":-50},{"s":"D","t":251.0,"v":-62.5},{"s":"D","t":252.0,"v":-50},{"s":"D","t":255.1,"v":-50},{"s":"D","t":256.1,"v":-62.5},{"s":"D","t":259.0,"v":-62.5}
]},
"vconcat":[
{
"width":1512,"height":697,
"view":{"stroke":"#c8d7e4","strokeWidth":1.5},
"layer":[
{"data":{"name":"series"},"transform":[{"filter":"datum.s === 'A'"}],"mark":{"type":"area","color":"#c3d9ea","opacity":0.7},
"encoding":{
"x":{"field":"t","type":"quantitative","scale":{"domain":[0,259],"nice":false,"zero":false},
"axis":{"values":[5.1,27.4,47.9,70.1,91.1,112.9,134.5,154.5,176.7,198.7,218.2,240.8],
"labelExpr":"datum.value < 10 ? '2012' : datum.value < 30 ? 'Avr' : datum.value < 50 ? 'Mai' : datum.value < 80 ? 'Jun' : datum.value < 100 ? 'Jul' : datum.value < 120 ? 'Aoû' : datum.value < 140 ? 'Sept' : datum.value < 160 ? 'Oct' : datum.value < 185 ? 'Nov' : datum.value < 205 ? 'Déc' : datum.value < 230 ? '2013' : 'Fév'",
"title":null,"ticks":false,"domain":false,"labelFont":"DejaVu Sans","labelFontWeight":"bold","labelFontSize":17,"labelColor":"#4a4a4a","labelPadding":7,"labelFlush":false,"labelOverlap":false,"gridColor":"#c8d7e4","gridWidth":1.5}},
"y":{"field":"v","type":"quantitative","scale":{"domain":[-80,60],"nice":false,"zero":false},
"axis":{"orient":"right","values":[-60,-40,-20,0,20,40],"labelExpr":"datum.value + '%'","title":null,"ticks":false,"domain":false,"labelFont":"DejaVu Sans","labelFontWeight":"bold","labelFontSize":17,"labelColor":"#4a4a4a","labelPadding":5,"labelAlign":"left","labelOffset":{"condition":{"test":"datum.value === 0","value":-12},"value":-2},"gridColor":"#c8d7e4","gridWidth":1.5}},
"y2":{"datum":-80}}},
{"data":{"name":"series"},"mark":{"type":"line","strokeWidth":2.2},
"encoding":{"x":{"field":"t","type":"quantitative"},"y":{"field":"v","type":"quantitative"},
"color":{"field":"s","type":"nominal","scale":{"domain":["A","B","C","D"],"range":["#2a5d98","#3a9245","#8c6c39","#e5402d"]},"legend":null}}},
{"data":{"values":[{"w":"© 2013 Yahoo! Inc."}]},"mark":{"type":"text","align":"left","baseline":"middle","font":"DejaVu Sans","fontSize":17,"fill":"#a9b9c7","opacity":1},
"encoding":{"x":{"datum":1.7,"type":"quantitative"},"y":{"datum":-76.8,"type":"quantitative"},"text":{"field":"w","type":"nominal"}}}
]
},
{
"spacing":8,
"vconcat":[
{
"width":1512,"height":26,
"view":{"stroke":null},
"layer":[
{"data":{"values":[{"b":"1J"},{"b":"5J"},{"b":"1M"},{"b":"CA"},{"b":"3M"},{"b":"6M"},{"b":"1A"},{"b":"2A"},{"b":"5A"},{"b":"Max"}]},
"encoding":{"x":{"field":"b","type":"nominal","sort":null,"scale":{"type":"band","range":[478,981],"paddingInner":0,"paddingOuter":0},"axis":null}},
"layer":[
{"mark":{"type":"rect","fill":"#eef2f6","stroke":"#b4c2d0","strokeWidth":1.5}},
{"mark":{"type":"text","font":"DejaVu Sans","fontWeight":"bold","fontSize":17,"color":"#2c5f9a","baseline":"middle"},"encoding":{"text":{"field":"b"}}}
]},
{"data":{"values":[{"k":"DU :","d":"23 Fév 2012"},{"k":"AU :","d":"28 Fév 2013"},{"k":"-12.31%"}]},
"encoding":{"x":{"field":"k","type":"nominal","sort":null,"scale":{"type":"band","range":[1019,1635],"paddingInner":0,"paddingOuter":0},"axis":null}},
"layer":[
{"transform":[{"filter":"isValid(datum.d)"}],"mark":{"type":"rect","width":136,"xOffset":8,"fill":"white","stroke":"#555555","strokeWidth":1.5}},
{"transform":[{"filter":"isValid(datum.d)"}],"mark":{"type":"text","xOffset":8,"font":"Liberation Sans","fontSize":22,"color":"#333333","baseline":"middle"},"encoding":{"text":{"field":"d"}}},
{"mark":{"type":"text","align":"left","baseline":"middle","font":"DejaVu Sans","fontWeight":"bold","fontSize":17},"encoding":{"x":{"field":"k","type":"nominal","sort":null,"bandPosition":0,"axis":null},"text":{"field":"k"},"color":{"condition":{"test":"datum.k === '-12.31%'","value":"#d4121e"},"value":"#222222"}}}
]}
],
"resolve":{"scale":{"x":"independent"}}
},
{
"width":1512,"height":2,
"view":{"stroke":null},
"data":{"values":[{"r":1}]},
"mark":{"type":"rule","color":"#d4d4d4","strokeWidth":3},
"encoding":{"y":{"datum":0,"type":"quantitative","scale":{"domain":[0,1]},"axis":null}}
}
]
}
]
}
